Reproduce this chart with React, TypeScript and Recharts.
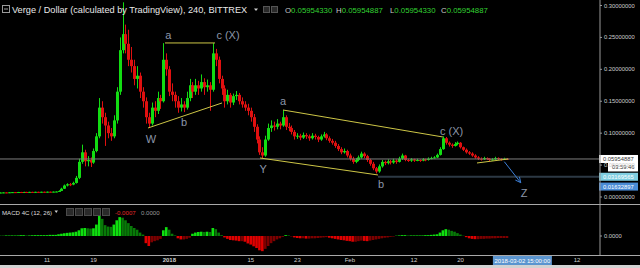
import React from 'react';
import { ComposedChart, Bar, XAxis, YAxis, ReferenceLine, ReferenceDot, Cell } from 'recharts';

// ---------------- data ----------------
// 12-hour candles of Verge / Dollar, prices in milli-dollars (0.001 USD), day 0 = 2017-12-03
const candleStepDays = 0.5;
const candleOHLC: [number, number, number, number][] = [
  [6.9, 7.3, 6.7, 7.0], [7.0, 7.4, 6.9, 7.2], [7.2, 7.4, 6.9, 7.1], [7.1, 7.6, 7.0, 7.4],
  [7.4, 7.8, 7.2, 7.6], [7.6, 7.8, 7.3, 7.5], [7.5, 8.0, 7.4, 7.8], [7.8, 8.0, 7.5, 7.7],
  [7.7, 8.1, 7.6, 7.9], [7.9, 8.1, 7.6, 7.8], [7.8, 8.2, 7.7, 8.0], [8.0, 8.2, 7.7, 7.9],
  [7.9, 8.3, 7.8, 8.1], [8.1, 8.3, 7.8, 8.0], [8.0, 8.4, 7.9, 8.2], [8.2, 8.4, 7.9, 8.1],
  [8.1, 8.5, 8.0, 8.3], [8.3, 8.5, 8.0, 8.2], [8.2, 8.7, 8.1, 8.4], [8.4, 8.9, 8.3, 8.6],
  [8.6, 10.5, 8.5, 9.5], [9.5, 14.5, 9.3, 13.0], [13.0, 19.5, 12.5, 18.0], [18.0, 21.5, 16.5, 20.0],
  [20.0, 22.0, 17.0, 19.5], [19.5, 24.0, 18.5, 22.0], [22.0, 33.0, 21.0, 30.0], [30.0, 60.0, 28.0, 55.0],
  [55.0, 82.0, 52.0, 70.0], [70.0, 74.0, 48.0, 56.0], [56.0, 64.0, 48.0, 58.0], [58.0, 62.0, 47.0, 54.0],
  [54.0, 76.0, 52.0, 72.0], [72.0, 100.0, 70.0, 95.0], [95.0, 155.0, 92.0, 140.0], [140.0, 150.0, 115.0, 125.0],
  [125.0, 132.0, 80.0, 112.0], [112.0, 118.0, 92.0, 100.0], [100.0, 108.0, 88.0, 95.0], [95.0, 128.0, 92.0, 120.0],
  [120.0, 172.0, 115.0, 165.0], [165.0, 250.0, 160.0, 230.0], [230.0, 305.0, 225.0, 255.0], [255.0, 270.0, 225.0, 240.0],
  [240.0, 262.0, 205.0, 215.0], [215.0, 235.0, 195.0, 205.0], [205.0, 215.0, 175.0, 185.0], [185.0, 205.0, 170.0, 190.0],
  [190.0, 195.0, 155.0, 165.0], [165.0, 172.0, 140.0, 150.0], [150.0, 156.0, 115.0, 125.0], [125.0, 132.0, 108.0, 115.0],
  [115.0, 148.0, 112.0, 140.0], [140.0, 150.0, 125.0, 135.0], [135.0, 165.0, 130.0, 155.0], [155.0, 160.0, 138.0, 150.0],
  [150.0, 241.0, 148.0, 215.0], [215.0, 225.0, 190.0, 200.0], [200.0, 205.0, 158.0, 165.0], [165.0, 178.0, 150.0, 160.0],
  [160.0, 165.0, 140.0, 150.0], [150.0, 158.0, 132.0, 140.0], [140.0, 155.0, 134.0, 145.0], [145.0, 150.0, 133.0, 140.0],
  [140.0, 165.0, 137.0, 155.0], [155.0, 185.0, 150.0, 175.0], [175.0, 180.0, 155.0, 165.0], [165.0, 185.0, 160.0, 175.0],
  [175.0, 182.0, 160.0, 170.0], [170.0, 192.0, 165.0, 180.0], [180.0, 186.0, 160.0, 172.0], [172.0, 184.0, 165.0, 175.0],
  [175.0, 180.0, 135.0, 168.0], [168.0, 241.0, 165.0, 225.0], [225.0, 232.0, 205.0, 215.0], [215.0, 220.0, 178.0, 185.0],
  [185.0, 190.0, 160.0, 170.0], [170.0, 175.0, 140.0, 150.0], [150.0, 168.0, 145.0, 160.0], [160.0, 163.0, 140.0, 148.0],
  [148.0, 162.0, 144.0, 158.0], [158.0, 166.0, 152.0, 160.0], [160.0, 163.0, 145.0, 150.0], [150.0, 156.0, 140.0, 145.0],
  [145.0, 150.0, 135.0, 140.0], [140.0, 146.0, 128.0, 135.0], [135.0, 140.0, 118.0, 125.0], [125.0, 130.0, 102.0, 110.0],
  [110.0, 114.0, 84.0, 90.0], [90.0, 95.0, 66.0, 70.0], [70.0, 78.0, 61.0, 65.0], [65.0, 96.0, 63.0, 90.0],
  [90.0, 115.0, 88.0, 108.0], [108.0, 120.0, 102.0, 112.0], [112.0, 118.0, 104.0, 110.0], [110.0, 122.0, 106.0, 115.0],
  [115.0, 118.0, 106.0, 112.0], [112.0, 136.0, 110.0, 125.0], [125.0, 128.0, 105.0, 110.0], [110.0, 116.0, 103.0, 108.0],
  [108.0, 112.0, 98.0, 102.0], [102.0, 105.0, 90.0, 95.0], [95.0, 100.0, 91.0, 96.0], [96.0, 99.0, 89.0, 93.0],
  [93.0, 101.0, 91.0, 97.0], [97.0, 100.0, 91.0, 95.0], [95.0, 98.0, 88.0, 92.0], [92.0, 100.0, 90.0, 96.0],
  [96.0, 99.0, 90.0, 94.0], [94.0, 96.0, 86.0, 90.0], [90.0, 98.0, 88.0, 95.0], [95.0, 102.0, 93.0, 98.0],
  [98.0, 100.0, 89.0, 92.0], [92.0, 95.0, 85.0, 88.0], [88.0, 91.0, 82.0, 85.0], [85.0, 88.0, 77.0, 80.0],
  [80.0, 83.0, 72.0, 75.0], [75.0, 78.0, 67.0, 70.0], [70.0, 76.0, 68.0, 72.0], [72.0, 74.0, 62.0, 65.0],
  [65.0, 68.0, 57.0, 60.0], [60.0, 63.0, 52.0, 55.0], [55.0, 61.0, 53.0, 58.0], [58.0, 65.0, 56.0, 62.0],
  [62.0, 71.0, 60.0, 68.0], [68.0, 70.0, 61.0, 64.0], [64.0, 66.0, 55.0, 58.0], [58.0, 60.0, 49.0, 52.0],
  [52.0, 55.0, 42.0, 45.0], [45.0, 47.0, 37.0, 40.0], [40.0, 51.0, 38.0, 48.0], [48.0, 58.0, 46.0, 55.0],
  [55.0, 57.0, 50.0, 53.0], [53.0, 59.0, 51.0, 56.0], [56.0, 58.0, 51.0, 54.0], [54.0, 60.0, 52.0, 57.0],
  [57.0, 59.0, 52.0, 55.0], [55.0, 63.0, 54.0, 60.0], [60.0, 68.0, 58.0, 65.0], [65.0, 66.0, 56.0, 58.0],
  [58.0, 60.0, 55.0, 57.0], [57.0, 61.0, 55.0, 59.0], [59.0, 60.0, 55.0, 57.0], [57.0, 60.0, 56.0, 58.0],
  [58.0, 59.0, 55.0, 57.0], [57.0, 61.0, 56.0, 59.0], [59.0, 60.0, 56.0, 58.0], [58.0, 62.0, 57.0, 60.0],
  [60.0, 63.0, 59.0, 61.0], [61.0, 64.0, 60.0, 62.0], [62.0, 68.0, 61.0, 66.0], [66.0, 78.0, 65.0, 75.0],
  [75.0, 95.0, 74.0, 92.0], [92.0, 94.0, 82.0, 85.0], [85.0, 87.0, 79.0, 82.0], [82.0, 84.0, 77.0, 80.0],
  [80.0, 86.0, 79.0, 83.0], [83.0, 87.0, 81.0, 85.0], [85.0, 86.0, 76.0, 78.0], [78.0, 79.0, 72.0, 74.0],
  [74.0, 76.0, 68.0, 70.0], [70.0, 72.0, 66.0, 68.0], [68.0, 70.0, 63.0, 65.0], [65.0, 67.0, 60.0, 62.0],
  [62.0, 64.0, 58.0, 60.0], [60.0, 62.0, 57.0, 59.0], [59.0, 63.0, 58.0, 61.0], [61.0, 62.0, 58.0, 60.0],
  [60.0, 61.0, 56.0, 58.0], [58.0, 61.0, 57.0, 59.0], [59.0, 63.0, 58.0, 61.0], [61.0, 62.0, 58.0, 60.0],
  [60.0, 61.0, 57.0, 59.0], [59.0, 61.5, 58.0, 60.0], [60.0, 60.5, 59.0, 59.55],
];

// MACD 4C (12, 26) histogram, units of 0.0001
const macdHist: number[] = [
  1, 1, 2, 2, 2, 2, 2, 3, 3, 2, 2, 3, 3, 3, 3, 3, 3, 4, 4, 4,
  6, 8, 10, 11, 12, 13, 15, 20, 27, 28, 27, 26, 27, 40, 70,
  60, 38, 33, 32, 40, 55, 66, 64, 55, 45, 35, 28, 22, 12, 5,
  -25, -35, -22, -18, -15, -10, 20, 31, 22, 8, 2,
  -8, -12, -12, -10, -6, 8, 12, 14, 15, 14, 15, 14, 28, 24, 12, 3, -5,
  -10, -14, -15, -16, -18, -18, -20, -26, -30, -36, -42, -50, -53, -45,
  -35, -25, -18, -12, -8, -3, 3, 2, -1,
  -5, -7, -8, -8, -9, -9, -8, -8, -7, -6, -5, -4, -6, -8, -10, -12,
  -14, -15, -17, -18, -20, -20, -18, -16, -17, -18,
  -16, -14, -12, -10, -8, -6, -5, -3, -2,
  1, 2, 3, 3, 2, 2, 2, 2, 2, 2, 3, 3, 4, 5, 6,
  12, 20, 24, 22, 18, 15, 10, 5, 1,
  -4, -8, -10, -11, -11, -10, -10, -9, -9, -8, -8, -7, -7, -7, -7,
];

const priceTicks = [0, 50, 100, 150, 200, 250, 300];
const macdTicks = [0];
const dateTickDays = [8, 16, 29, 43, 51, 60, 71, 79, 99];
const dateTickLabels = ['11', '19', '2018', '15', '23', 'Feb', '12', '20', '12'];
const cursorDay = 89.625;
const cursorLabel = '2018-03-02 15:00:00';

const lastPrice = 59.54887;
const countdownText = '03:59:46';
const targetPrice = 31.69565;
const targetStartDay = 64.83;
const arrowPrice = 16.32897;

// Elliott wave drawings: [day1, price1, day2, price2]
const waveLines: [number, number, number, number][] = [
  [28.26, 241.3, 36.85, 241.3],
  [25.34, 108.1, 38.05, 147.3],
  [48.52, 136.3, 75.99, 94.0],
  [44.57, 61.1, 64.83, 34.5],
  [81.83, 53.3, 87.16, 59.5],
];
const zArrow: [number, number, number, number] = [86.52, 55.3, 89.34, 22.4];
const waveLabelDays = [28.83, 39.08, 31.52, 25.86, 45.1, 48.52, 77.46, 65.35, 89.9];
const waveLabelPrices = [253.8, 253.8, 116.7, 90.9, 43.9, 149.6, 103.4, 20.4, 6.3];
const waveLabelTexts = ['a', 'c (X)', 'b', 'W', 'Y', 'a', 'c (X)', 'b', 'Z'];

const headerTitle = 'Verge / Dollar (calculated by TradingView), 240, BITTREX';
const ohlcLetters = ['O', 'H', 'L', 'C'];
const ohlcValues = ['0.05954330', '0.05954887', '0.05954330', '0.05954887'];
const macdTitle = 'MACD 4C (12, 26)';
const macdValues = ['-0.0007', '0.0000'];

// ---------------- styling ----------------
const FONT = '"Liberation Sans", Arial, sans-serif';
const UP = '#12dc12';
const DOWN = '#e01010';
const WAVE = '#cdc646';
const LABEL = '#8c96a8';
const AXIS_TEXT = '#cfcfcf';
const AXIS_LINE = '#9a9a9a';
const X_DOMAIN: [number, number] = [-0.07, 102.95];

const rows = candleOHLC.map(([o, h, l, c], i) => ({
  d: i * candleStepDays,
  o, h, l, c,
  macd: macdHist[i],
}));

const macdColor = (i: number) => {
  const v = macdHist[i];
  const p = i > 0 ? macdHist[i - 1] : v;
  if (v >= 0) return v >= p ? '#0fe00f' : '#087a08';
  return v < p ? '#e00000' : '#7c0000';
};

function Candle(props: any) {
  const { x, y, width, height, payload } = props;
  if (x == null || y == null || !payload) return null;
  const { o, h, l, c } = payload;
  const top = Math.min(y, y + height);
  const bot = Math.max(y, y + height);
  const k = h > l ? (bot - top) / (h - l) : 0;
  const px = Math.round(x + width / 2);
  const b1 = top + (h - Math.max(o, c)) * k;
  const b2 = top + (h - Math.min(o, c)) * k;
  const col = c >= o ? UP : DOWN;
  return (
    <g>
      <line x1={px + 0.5} x2={px + 0.5} y1={top} y2={Math.max(bot, top + 1)} stroke={col} strokeWidth={1} />
      <rect x={px - 1} y={b1} width={3} height={Math.max(1, b2 - b1)} fill={col} />
    </g>
  );
}

const axisTag = (text: string, bg: string, fg: string, extra?: string) => (props: any) => {
  const vb = props.viewBox || {};
  const x = (vb.x || 0) + (vb.width || 0);
  const y = vb.y || 0;
  return (
    <g>
      <rect x={x - 1} y={y - 4} width={39} height={8} fill={bg} />
      <text x={x + 3} y={y} dy="0.35em" fontSize={5.8} fill={fg} fontFamily={FONT}>{text}</text>
      {extra ? (
        <g>
          <rect x={x + 8} y={y + 3.5} width={30} height={9} fill="#ffffff" />
          <text x={x + 12} y={y + 8} dy="0.35em" fontSize={5.8} fill="#333" fontFamily={FONT}>{extra}</text>
        </g>
      ) : null}
    </g>
  );
};

function Arrow(props: any) {
  const { x1, y1, x2, y2, stroke } = props;
  if ([x1, y1, x2, y2].some((v) => v == null || isNaN(v))) return null;
  const ang = Math.atan2(y2 - y1, x2 - x1);
  const len = 6;
  const a1 = ang + Math.PI - 0.45;
  const a2 = ang + Math.PI + 0.45;
  return (
    <g stroke={stroke} strokeWidth={1} fill="none">
      <line x1={x1} y1={y1} x2={x2} y2={y2} />
      <polyline points={`${x2 + len * Math.cos(a1)},${y2 + len * Math.sin(a1)} ${x2},${y2} ${x2 + len * Math.cos(a2)},${y2 + len * Math.sin(a2)}`} />
    </g>
  );
}

function DateTick(props: any) {
  const { x, y, payload } = props;
  const v = payload.value;
  if (v === cursorDay) {
    return (
      <g>
        <rect x={x - 29.5} y={y + 1} width={59} height={10} fill="#5b95cf" />
        <text x={x} y={y + 6} dy="0.35em" textAnchor="middle" fontSize={6} fill="#ffffff" fontFamily={FONT}>{cursorLabel}</text>
      </g>
    );
  }
  const idx = dateTickDays.indexOf(v);
  const label = dateTickLabels[idx];
  return (
    <text x={x} y={y + 5} dy="0.35em" textAnchor="middle" fontSize={6} fill={AXIS_TEXT}
      fontWeight={label === '2018' ? 'bold' : 'normal'} fontFamily={FONT}>{label}</text>
  );
}

const ohlcX = [285, 336, 390, 441];
const macdIconX = [66, 75, 84, 93, 102];

export default function App() {
  return (
    <div style={{ position: 'relative', width: 640, height: 268, background: '#000', overflow: 'hidden' }}>
      <style>{'html,body{margin:0;padding:0;background:#000;}'}</style>

      {/* price pane */}
      <div style={{ position: 'absolute', left: 0, top: 0 }}>
        <ComposedChart width={640} height={204} data={rows} margin={{ top: 0, right: 0, bottom: 0, left: 0 }}>
          <XAxis dataKey="d" type="number" domain={X_DOMAIN} hide allowDataOverflow />
          <YAxis orientation="right" type="number" domain={[-10.97, 308.6]} allowDataOverflow ticks={priceTicks}
            interval={0} width={40} tickSize={2} tickMargin={2}
            tickFormatter={(v: number) => (v / 1000).toFixed(8)}
            tick={{ fill: AXIS_TEXT, fontSize: 5.8, fontFamily: FONT }}
            axisLine={{ stroke: AXIS_LINE }} tickLine={{ stroke: AXIS_LINE }} />
          <ReferenceLine y={lastPrice} stroke="#7d7d7d" strokeWidth={1} ifOverflow="visible" />
          <ReferenceLine segment={[{ x: targetStartDay, y: targetPrice }, { x: X_DOMAIN[1], y: targetPrice }]}
            stroke="#2c3944" strokeWidth={2} ifOverflow="visible" />
          <Bar dataKey={(r: any) => [r.l, r.h]} barSize={3} isAnimationActive={false}
            shape={(p: any) => <Candle {...p} />} />
          {waveLines.map((w, i) => (
            <ReferenceLine key={`w${i}`} segment={[{ x: w[0], y: w[1] }, { x: w[2], y: w[3] }]}
              stroke={WAVE} strokeWidth={1} ifOverflow="visible" />
          ))}
          <ReferenceLine segment={[{ x: zArrow[0], y: zArrow[1] }, { x: zArrow[2], y: zArrow[3] }]}
            stroke="#3d7fd6" ifOverflow="visible" shape={(p: any) => <Arrow {...p} stroke="#3d7fd6" />} />
          {waveLabelTexts.map((t, i) => (
            <ReferenceDot key={`l${i}`} x={waveLabelDays[i]} y={waveLabelPrices[i]} r={0} fill="none" stroke="none"
              ifOverflow="visible"
              label={{ value: t, position: 'center', fill: LABEL, fontSize: 11, fontFamily: FONT }} />
          ))}
          <ReferenceLine y={lastPrice} stroke="none" ifOverflow="visible"
            label={axisTag((lastPrice / 1000).toFixed(8), '#ffffff', '#333333', countdownText)} />
          <ReferenceLine y={targetPrice} stroke="none" ifOverflow="visible"
            label={axisTag((targetPrice / 1000).toFixed(8), '#7fcfe2', '#ffffff')} />
          <ReferenceLine y={arrowPrice} stroke="none" ifOverflow="visible"
            label={axisTag((arrowPrice / 1000).toFixed(8), '#4a8cd6', '#ffffff')} />
        </ComposedChart>
      </div>

      {/* MACD pane */}
      <div style={{ position: 'absolute', left: 0, top: 205 }}>
        <ComposedChart width={640} height={61} data={rows} margin={{ top: 0, right: 0, bottom: 0, left: 0 }}>
          <XAxis dataKey="d" type="number" domain={X_DOMAIN} allowDataOverflow height={11}
            ticks={[...dateTickDays, cursorDay]} interval={0} tickSize={0} tickMargin={0}
            tickLine={false} axisLine={false} tick={(p: any) => <DateTick {...p} />} />
          <YAxis orientation="right" type="number" domain={[-66.4, 108.4]} allowDataOverflow ticks={macdTicks}
            interval={0} width={40} tickSize={2} tickMargin={2}
            tickFormatter={(v: number) => (v / 10000).toFixed(4)}
            tick={{ fill: AXIS_TEXT, fontSize: 5.8, fontFamily: FONT }}
            axisLine={{ stroke: AXIS_LINE }} tickLine={{ stroke: AXIS_LINE }} />
          <Bar dataKey="macd" barSize={3} isAnimationActive={false}>
            {rows.map((_, i) => <Cell key={i} fill={macdColor(i)} />)}
          </Bar>
        </ComposedChart>
      </div>

      {/* chrome: headers and separators */}
      <svg width={640} height={268} style={{ position: 'absolute', left: 0, top: 0, pointerEvents: 'none' }}
        fontFamily={FONT}>
        <line x1={0} x2={640} y1={204.5} y2={204.5} stroke="#a8a8a8" />
        <line x1={0} x2={640} y1={255.5} y2={255.5} stroke="#a8a8a8" />
        <rect x={0} y={265} width={640} height={3} fill="#d2d2d2" />

        <rect x={2.5} y={5.5} width={7} height={7} fill="none" stroke="#9a9a9a" />
        <line x1={4} x2={8} y1={9} y2={9} stroke="#9a9a9a" />
        <text x={12} y={13} fontSize={9.2} fill="#e8e8e8">{headerTitle}</text>
        <path d="M254,8.5 L258,8.5 L256,11 Z" fill="#cccccc" />
        <rect x={263.5} y={6.5} width={6} height={6} fill="#2a2a2a" stroke="#555" />
        <rect x={271.5} y={6.5} width={6} height={6} fill="#2a2a2a" stroke="#555" />
        {ohlcLetters.map((L, i) => (
          <text key={L} x={ohlcX[i]} y={12.5} fontSize={7.8}>
            <tspan fill="#c8c8c8">{L}</tspan>
            <tspan fill="#33d233">{ohlcValues[i]}</tspan>
          </text>
        ))}

        <text x={2} y={214.5} fontSize={6.1} fill="#dddddd">{macdTitle}</text>
        <path d="M54.5,210.5 L58,210.5 L56.25,213 Z" fill="#cccccc" />
        {macdIconX.map((x) => (
          <rect key={x} x={x + 0.5} y={208.5} width={7} height={7} fill="#2a2a2a" stroke="#4a4a4a" />
        ))}
        <text x={115} y={214.5} fontSize={6.1} fill="#e02a2a">{macdValues[0]}</text>
        <text x={141} y={214.5} fontSize={6.1} fill="#9a9a9a">{macdValues[1]}</text>
      </svg>
    </div>
  );
}
